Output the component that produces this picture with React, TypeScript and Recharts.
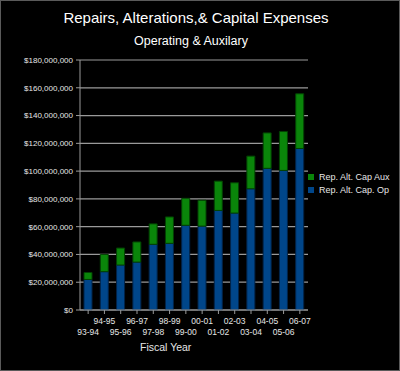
import { BarChart, Bar, XAxis, YAxis, CartesianGrid } from 'recharts'

const years = ['93-94', '94-95', '95-96', '96-97', '97-98', '98-99', '99-00', '00-01', '01-02', '02-03', '03-04', '04-05', '05-06', '06-07']
const capOp = [22000000, 27600000, 32400000, 34500000, 47300000, 48000000, 61000000, 60400000, 71700000, 69800000, 87300000, 102000000, 100500000, 116300000]
const capAux = [5000000, 12400000, 12200000, 14500000, 14700000, 19000000, 19400000, 18600000, 21100000, 21800000, 23500000, 25500000, 28000000, 39400000]
const yTicks = [0, 20000000, 40000000, 60000000, 80000000, 100000000, 120000000, 140000000, 160000000, 180000000]

const FONT = '"Liberation Sans", Arial, sans-serif'
const OP_COLOR = '#00468a'
const AUX_COLOR = '#0a850a'

const series = [
  { name: 'Rep. Alt. Cap Aux', color: AUX_COLOR },
  { name: 'Rep. Alt. Cap. Op', color: OP_COLOR },
]

const rows = years.map((y, i) => ({ year: y, op: capOp[i], aux: capAux[i] }))

const YearTick = ({ x, y, payload, index }: any) => (
  <text x={x} y={y + (index % 2 === 0 ? 19 : 8)} textAnchor="middle" fill="#e6e6e6" fontSize={8.5} fontFamily={FONT}>
    {payload.value}
  </text>
)

export default function App() {
  return (
    <div style={{ position: 'absolute', left: 0, top: 0, width: 400, height: 371, background: '#000', border: '1px solid #5a5a5a', boxSizing: 'border-box' }}>
      <div style={{ position: 'absolute', left: 0, top: 0, width: 400, height: 371 }}>
        <BarChart width={400} height={371} data={rows} margin={{ top: 59, right: 93, bottom: 31, left: 0 }} barSize={8}>
          <CartesianGrid vertical={false} stroke="#9a9a9a" strokeWidth={1.2} />
          <XAxis
            dataKey="year"
            interval={0}
            height={31}
            stroke="#9a9a9a"
            tickSize={4}
            tickMargin={2}
            tick={<YearTick />}
          />
          <YAxis
            width={79}
            domain={[0, 180000000]}
            ticks={yTicks}
            stroke="#9a9a9a"
            tickSize={4}
            tickMargin={3}
            tick={{ fill: '#e6e6e6', fontSize: 8, fontFamily: FONT }}
            tickFormatter={(v: number) => `$${v.toLocaleString('en-US')}`}
          />
          <YAxis yAxisId="edge" orientation="right" width={0} tick={false} tickLine={false} stroke="#9a9a9a" />
          <Bar dataKey="op" stackId="a" name="Rep. Alt. Cap. Op" fill={OP_COLOR} stroke="#00244a" strokeWidth={1} isAnimationActive={false} />
          <Bar dataKey="aux" stackId="a" name="Rep. Alt. Cap Aux" fill={AUX_COLOR} stroke="#034203" strokeWidth={1} isAnimationActive={false} />
        </BarChart>
      </div>
      <div style={{ position: 'absolute', left: 307, top: 170, fontFamily: FONT, fontSize: 9, color: '#e6e6e6' }}>
        {series.map((s) => (
          <div key={s.name} style={{ display: 'flex', alignItems: 'center', height: 12.5 }}>
            <span style={{ width: 6, height: 6, background: s.color, marginRight: 5, display: 'inline-block' }} />
            {s.name}
          </div>
        ))}
      </div>
      <div style={{ position: 'absolute', left: 0, top: 8, width: 390, textAlign: 'center', fontFamily: FONT, fontSize: 15, color: '#fff' }}>
        Repairs, Alterations,&amp; Capital Expenses
      </div>
      <div style={{ position: 'absolute', left: 0, top: 33, width: 380, textAlign: 'center', fontFamily: FONT, fontSize: 12.5, color: '#fff' }}>
        Operating &amp; Auxilary
      </div>
      <div style={{ position: 'absolute', left: 139, top: 340, fontFamily: FONT, fontSize: 10.5, color: '#e6e6e6' }}>
        Fiscal Year
      </div>
    </div>
  )
}
